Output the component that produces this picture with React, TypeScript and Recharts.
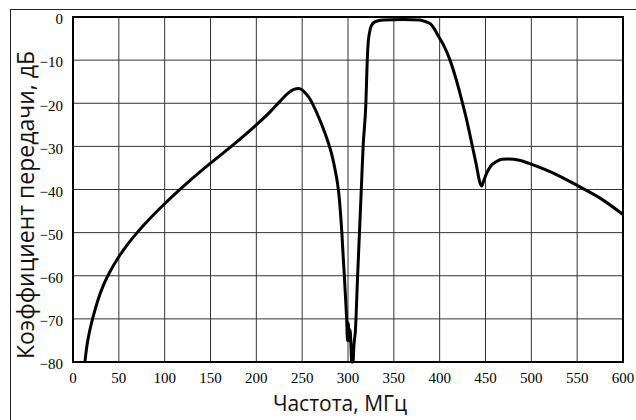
import React from 'react';
import { LineChart, Line, XAxis, YAxis, CartesianGrid, ReferenceArea, Label } from 'recharts';

const frequencies = [
  13, 15, 18, 22, 27, 33, 40, 50, 60, 70, 85, 100, 125, 150, 175, 200, 215, 226, 235, 241, 246, 250,
  254, 258.5, 264, 269.5, 275, 280.5, 283, 286, 288.5, 290.5, 292, 293.3, 294.6, 296, 297.3, 298.5,
  299.5, 300.3, 301.2, 302.2, 303.2, 304, 305.5, 306.5, 308, 310.5, 312.5, 314.5, 316.5, 319.5, 321,
  322, 323.3, 325.5, 329.5, 338.5, 360, 378.5, 385, 390, 394, 398.5, 404, 411.3, 418, 424, 429.5, 435,
  440, 444, 445.8, 448, 451.3, 456, 462, 468, 474, 487, 502, 524, 549.5, 575, 600,
];
const gains = [
  -80, -76.5, -73, -69.5, -65.8, -62.3, -59.2, -55.6, -52.6, -50, -46.5, -43.3, -38.4, -33.9, -29.6,
  -25, -22, -19.5, -17.6, -16.8, -16.6, -16.9, -17.8, -19, -21.3, -24, -27, -30.5, -32.5, -35.5, -38.5,
  -42, -46, -50, -55, -60, -65, -70, -75, -71, -75, -72.5, -76, -80, -80, -76, -73, -60, -50, -40, -30,
  -20, -10, -6, -3.8, -2, -1.1, -0.7, -0.6, -0.7, -1.1, -1.6, -2.7, -4.4, -6.4, -10, -14.5, -19.2,
  -23.9, -29.3, -34.3, -38.5, -39.2, -38, -36.2, -34.5, -33.5, -33, -32.9, -33.2, -34.3, -36.2, -39,
  -42, -45.8,
];
const xTicks = [0, 50, 100, 150, 200, 250, 300, 350, 400, 450, 500, 550, 600];
const yTicks = [0, -10, -20, -30, -40, -50, -60, -70, -80];
const xTitle = 'Частота, МГц';
const yTitle = 'Коэффициент передачи, дБ';

const data = frequencies.map((f, i) => ({ f, g: gains[i] }));

const SANS = 'Open Sans';
const SERIF = 'Liberation Serif';

const fmt = (v: number) => (v < 0 ? '\u2212' + Math.abs(v) : String(v));

export default function App() {
  return (
    <div style={{ position: 'absolute', left: 0, top: 0, width: 636, height: 420, overflow: 'hidden', background: '#fff' }}>
      <div style={{ position: 'absolute', left: 10, top: 9, width: 800, height: 600, borderLeft: '1px solid #222', borderTop: '1px solid #222' }} />
      <div style={{ position: 'absolute', left: 0, top: 0 }}>
        <LineChart width={636} height={420} data={data} margin={{ top: 17, right: 13, bottom: 0, left: 0 }}>
          <CartesianGrid stroke="#333" strokeWidth={1} />
          <XAxis
            dataKey="f"
            type="number"
            domain={[0, 600]}
            ticks={xTicks}
            height={58}
            tickLine={false}
            tickSize={0}
            tickMargin={10}
            axisLine={{ stroke: '#000', strokeWidth: 2 }}
            tick={{ fontSize: 15, fill: '#000', fontFamily: SERIF }}
            interval={0}
          >
            <Label
              content={() => (
                <text x={340} y={411} textAnchor="middle" fontFamily={SANS} fontSize={21} fill="#111">
                  {xTitle}
                </text>
              )}
            />
          </XAxis>
          <YAxis
            type="number"
            domain={[-80, 0]}
            ticks={yTicks}
            width={73}
            tickLine={false}
            tickSize={0}
            tickMargin={10}
            axisLine={{ stroke: '#000', strokeWidth: 2 }}
            tick={{ fontSize: 15, fill: '#000', fontFamily: SERIF, dy: 2 }}
            tickFormatter={fmt}
            interval={0}
          >
            <Label
              content={() => (
                <text
                  x={25}
                  y={205}
                  transform="rotate(-90 25 205)"
                  textAnchor="middle"
                  dominantBaseline="central"
                  fontFamily={SANS}
                  fontSize={23}
                  fill="#111"
                >
                  {yTitle}
                </text>
              )}
            />
          </YAxis>
          <ReferenceArea x1={0} x2={600} y1={-80} y2={0} fill="none" stroke="#000" strokeWidth={2} fillOpacity={0} />
          <Line
            dataKey="g"
            type="monotone"
            stroke="#000"
            strokeWidth={3}
            dot={false}
            isAnimationActive={false}
          />
        </LineChart>
      </div>
    </div>
  );
}
